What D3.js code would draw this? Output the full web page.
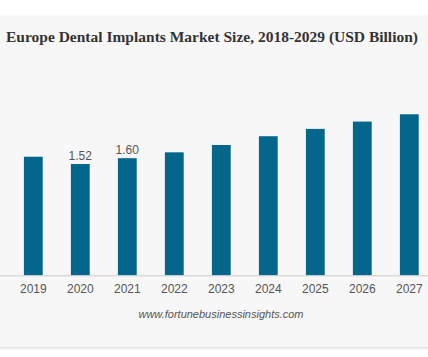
<!DOCTYPE html>
<html>
<head>
<meta charset="utf-8">
<script src="https://cdn.jsdelivr.net/npm/d3@7"></script>
<style>
html,body{margin:0;padding:0;background:#fff;}
svg{display:block;}
</style>
</head>
<body>
<svg id="chart" width="428" height="357"></svg>
<script>
const years = ["2019","2020","2021","2022","2023","2024","2025","2026","2027"];
const values = [1.62, 1.52, 1.60, 1.68, 1.78, 1.90, 2.00, 2.10, 2.20];
const labeledYears = ["2020","2021"];
const titleText = "Europe Dental Implants Market Size, 2018-2029 (USD Billion)";
const sourceText = "www.fortunebusinessinsights.com";

const svg = d3.select("#chart");
const W = 428, H = 357;

const defs = svg.append("defs");
const f = defs.append("filter").attr("id","sh").attr("x","-5%").attr("y","-5%").attr("width","110%").attr("height","115%");
f.append("feGaussianBlur").attr("in","SourceAlpha").attr("stdDeviation",1.5);
f.append("feOffset").attr("dy",1).attr("result","b");
f.append("feComponentTransfer").append("feFuncA").attr("type","linear").attr("slope",0.18);
const m = f.append("feMerge");
m.append("feMergeNode");
m.append("feMergeNode").attr("in","SourceGraphic");

svg.append("rect").attr("x",-10).attr("y",16).attr("width",W+20).attr("height",331)
  .attr("fill","#f7f7f7").attr("filter","url(#sh)");

const x = d3.scaleBand().domain(years).range([9.8, 432.8]).paddingInner(0.6).paddingOuter(0.3);
const y = d3.scaleLinear().domain([0, 2.5]).range([275.3, 92.3]);

svg.append("text").attr("x",6).attr("y",42)
  .attr("font-family","'Liberation Serif','Times New Roman',serif")
  .attr("font-weight","bold").attr("font-size",15.6).attr("fill","#333")
  .attr("textLength", 412).attr("lengthAdjust", "spacingAndGlyphs")
  .text(titleText);

svg.append("g").selectAll("rect").data(years).join("rect")
  .attr("x", d => x(d)).attr("width", x.bandwidth())
  .attr("y", (d,i) => y(values[i])).attr("height", (d,i) => y(0) - y(values[i]))
  .attr("fill","#04668b");

const axis = d3.axisBottom(x).tickSize(0).tickPadding(9);
const ag = svg.append("g").attr("transform",`translate(0,${y(0)})`).call(axis);
ag.select(".domain").remove();
ag.selectAll("text").attr("font-family","'Liberation Sans',Arial,sans-serif").attr("font-size",12).attr("fill","#555");
svg.append("line").attr("x1",0).attr("x2",W).attr("y1",y(0)+0.5).attr("y2",y(0)+0.5).attr("stroke","#ccc");

svg.append("g").selectAll("text").data(years.filter(d => labeledYears.includes(d))).join("text")
  .attr("x", d => x(d) + x.bandwidth()/2)
  .attr("y", d => y(values[years.indexOf(d)]) - 4)
  .attr("text-anchor","middle")
  .attr("font-family","'Liberation Sans',Arial,sans-serif").attr("font-size",12).attr("fill","#555")
  .text(d => values[years.indexOf(d)].toFixed(2));

svg.append("text").attr("x",221).attr("y",318).attr("text-anchor","middle")
  .attr("font-family","'Liberation Sans',Arial,sans-serif").attr("font-style","italic")
  .attr("font-size",11).attr("fill","#555").text(sourceText);
</script>
</body>
</html>
